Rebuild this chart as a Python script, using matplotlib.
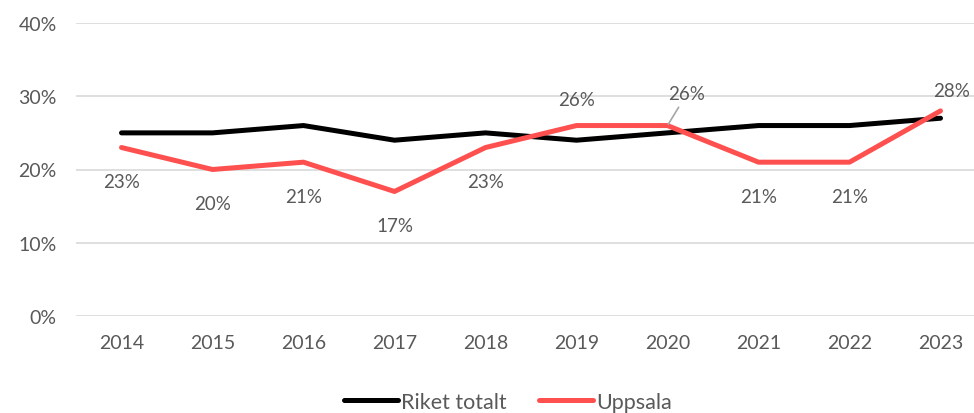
import matplotlib
matplotlib.use("Agg")
import matplotlib.pyplot as plt
from matplotlib.ticker import FuncFormatter

years = ["2014", "2015", "2016", "2017", "2018", "2019", "2020", "2021", "2022", "2023"]
riket = [25, 25, 26, 24, 25, 24, 25, 26, 26, 27]
uppsala = [23, 20, 21, 17, 23, 26, 26, 21, 21, 28]
label_pos = ["below", "below", "below", "below", "below", "above", "leader", "below", "below", "aboveright"]

plt.rcParams['font.family'] = ['Lato', 'DejaVu Sans']
TXT = "#595959"

fig = plt.figure(figsize=(9.74, 4.14), dpi=100)
ax = fig.add_axes([76/974, 97/414, 910/974, 293/414])
x = list(range(len(years)))
ax.plot(x, riket, color="black", lw=3.6, label="Riket totalt", solid_capstyle="round", zorder=3)
ax.plot(x, uppsala, color="#FF5050", lw=3.6, label="Uppsala", solid_capstyle="round", zorder=4)

ax.set_xlim(-0.5, 9.5)
ax.set_ylim(0, 40)
ax.set_yticks([0, 10, 20, 30, 40])
ax.yaxis.set_major_formatter(FuncFormatter(lambda v, p: f"{int(v)}%"))
ax.set_xticks(x)
ax.set_xticklabels(years)
ax.grid(axis="y", color="#D9D9D9", lw=1.2)
ax.set_axisbelow(True)
for s in ax.spines.values():
    s.set_visible(False)
ax.tick_params(length=0, labelsize=14, labelcolor=TXT, pad=13)
ax.tick_params(axis="y", pad=14)

for i, (v, pos) in enumerate(zip(uppsala, label_pos)):
    if pos == "below":
        ax.annotate(f"{v}%", (i, v), xytext=(0, -24.5), textcoords="offset points",
                    ha="center", va="center", fontsize=13.5, color=TXT)
    elif pos == "above":
        ax.annotate(f"{v}%", (i, v), xytext=(0, 19), textcoords="offset points",
                    ha="center", va="center", fontsize=13.5, color=TXT)
    elif pos == "leader":
        ax.annotate(f"{v}%", (i, v), xytext=(14, 23), textcoords="offset points",
                    ha="center", va="center", fontsize=13.5, color=TXT, zorder=6,
                    arrowprops=dict(arrowstyle="-", color="#A6A6A6", lw=1.2,
                                    shrinkA=2, shrinkB=1))
    else:
        ax.annotate(f"{v}%", (i, v), xytext=(8, 15), textcoords="offset points",
                    ha="center", va="center", fontsize=13.5, color=TXT)

leg = fig.legend(loc="center", bbox_to_anchor=(508/974, 1 - 403/414), ncol=2, frameon=False,
                 fontsize=15.5, handlelength=2.5, handletextpad=0.15, columnspacing=1.5,
                 labelcolor=TXT)
fig.savefig("out.png", dpi=100)
